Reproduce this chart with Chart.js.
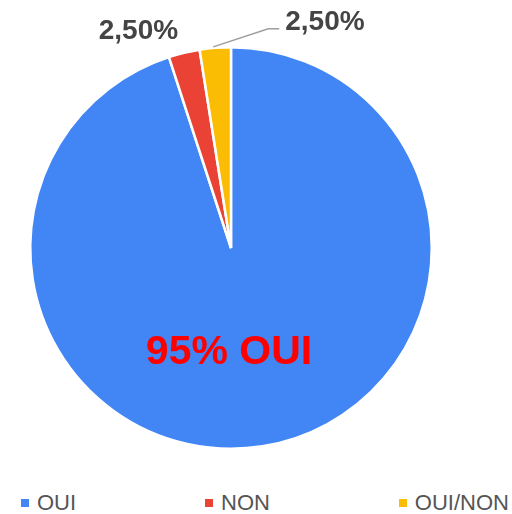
<!DOCTYPE html>
<html>
<head>
<meta charset="utf-8">
<script src="https://cdn.jsdelivr.net/npm/chart.js@4/dist/chart.umd.min.js"></script>
<style>
  html, body { margin: 0; padding: 0; background: #fff; }
  #wrap { position: relative; width: 512px; height: 514px; }
  #legend {
    position: absolute; top: 492px; left: 21px; right: 3px; height: 22px;
    display: flex; justify-content: space-between; align-items: center;
    font: 22px "Liberation Sans", Arial, sans-serif; color: #555; line-height: 22px;
  }
  .item { display: flex; align-items: center; }
  .box { width: 8px; height: 8px; margin-right: 8px; }
</style>
</head>
<body>
<div id="wrap">
  <canvas id="ch_pie" width="512" height="480" style="display:block;width:512px;height:480px"></canvas>
  <div id="legend"></div>
</div>
<script>
/* ── data ─────────────────────────────────────────────── */
const labels  = ['OUI', 'NON', 'OUI/NON'];
const values  = [95, 2.5, 2.5];
const colors  = ['#4285F4', '#EA4335', '#FBBC04'];
const sliceLabels = ['95% OUI', '2,50%', '2,50%'];

/* ── slice labels drawn after the arcs ────────────────── */
const labelPlugin = {
  id: 'sliceLabels',
  afterDatasetsDraw(chart) {
    const ctx = chart.ctx;
    const arcs = chart.getDatasetMeta(0).data;
    const FONT = '"Liberation Sans", Arial, sans-serif';
    ctx.save();

    // big label inside OUI
    const a0 = arcs[0];
    ctx.fillStyle = '#ff0000';
    ctx.font = 'bold 41px ' + FONT;
    ctx.textAlign = 'center';
    ctx.textBaseline = 'alphabetic';
    ctx.fillText(sliceLabels[0], a0.x - 2, a0.y + a0.outerRadius * 0.58);

    // outer point of a slice at its mid angle
    const outer = arc => {
      const m = (arc.startAngle + arc.endAngle) / 2;
      return { x: arc.x + Math.cos(m) * arc.outerRadius, y: arc.y + Math.sin(m) * arc.outerRadius };
    };

    ctx.fillStyle = '#444';
    ctx.font = 'bold 28px ' + FONT;

    // NON label, left of its slice
    const p1 = outer(arcs[1]);
    ctx.textAlign = 'right';
    ctx.fillText(sliceLabels[1], p1.x - 6, p1.y - 14);

    // OUI/NON label with leader line
    const p2 = outer(arcs[2]);
    ctx.strokeStyle = '#9e9e9e';
    ctx.lineWidth = 1.5;
    ctx.beginPath();
    ctx.moveTo(p2.x - 2, p2.y - 1);
    ctx.lineTo(p2.x + 53, p2.y - 19);
    ctx.lineTo(p2.x + 64, p2.y - 19);
    ctx.stroke();
    ctx.textAlign = 'left';
    ctx.fillText(sliceLabels[2], p2.x + 70, p2.y - 18);

    ctx.restore();
  }
};

new Chart(document.getElementById('ch_pie').getContext('2d'), {
  type: 'pie',
  data: {
    labels,
    datasets: [{
      data: values,
      backgroundColor: colors,
      borderColor: '#ffffff',
      borderWidth: 2.5
    }]
  },
  options: {
    responsive: false,
    animation: false,
    layout: { padding: { top: 46, left: 29, right: 79, bottom: 30 } },
    plugins: {
      legend: { display: false },
      tooltip: { enabled: false }
    }
  },
  plugins: [labelPlugin]
});

// legend
const lg = document.getElementById('legend');
labels.forEach((t, i) => {
  const it = document.createElement('div');
  it.className = 'item';
  it.innerHTML = `<span class="box" style="background:${colors[i]}"></span><span>${t}</span>`;
  lg.appendChild(it);
});
</script>
</body>
</html>
